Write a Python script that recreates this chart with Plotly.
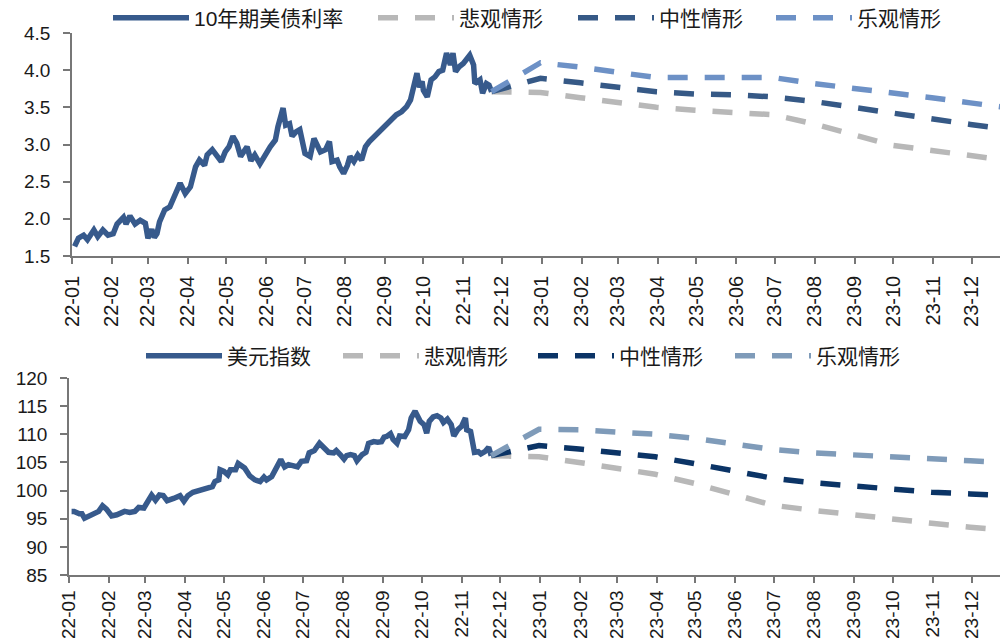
import plotly.graph_objects as go

# ---------------- data: 10Y UST yield (%) ----------------
ust_dates = [
    "2022-01-03","2022-01-06","2022-01-10","2022-01-13","2022-01-18","2022-01-21","2022-01-25","2022-01-29",
    "2022-02-02","2022-02-05","2022-02-10","2022-02-12","2022-02-15","2022-02-19","2022-02-23","2022-02-27",
    "2022-03-01","2022-03-04","2022-03-06","2022-03-08","2022-03-10","2022-03-14","2022-03-18","2022-03-21",
    "2022-03-23","2022-03-26","2022-03-30","2022-04-03","2022-04-07","2022-04-10","2022-04-14","2022-04-16",
    "2022-04-20","2022-04-23","2022-04-27","2022-04-30","2022-05-03","2022-05-06","2022-05-09","2022-05-12",
    "2022-05-17","2022-05-20","2022-05-23","2022-05-27","2022-05-31","2022-06-04","2022-06-08","2022-06-10",
    "2022-06-14","2022-06-16","2022-06-19","2022-06-21","2022-06-24","2022-06-27","2022-07-01","2022-07-05",
    "2022-07-08","2022-07-10","2022-07-13","2022-07-17","2022-07-20","2022-07-22","2022-07-26","2022-07-28",
    "2022-07-31","2022-08-03","2022-08-05","2022-08-08","2022-08-11","2022-08-14","2022-08-17","2022-08-20",
    "2022-08-24","2022-08-27","2022-08-31","2022-09-02","2022-09-06","2022-09-10","2022-09-14","2022-09-18",
    "2022-09-21","2022-09-23","2022-09-26","2022-09-28","2022-09-30","2022-10-01","2022-10-04","2022-10-07",
    "2022-10-10","2022-10-13","2022-10-16","2022-10-19","2022-10-22","2022-10-24","2022-10-26","2022-10-29",
    "2022-11-01","2022-11-06","2022-11-09","2022-11-10","2022-11-14","2022-11-16","2022-11-19","2022-11-21",
    "2022-11-23",
]
ust_values = [
    1.63, 1.74, 1.78, 1.72, 1.85, 1.76, 1.85, 1.78,
    1.80, 1.93, 2.02, 1.93, 2.04, 1.93, 1.98, 1.94,
    1.74, 1.86, 1.75, 1.80, 1.96, 2.12, 2.16, 2.28,
    2.37, 2.48, 2.34, 2.43, 2.70, 2.79, 2.72, 2.86,
    2.93, 2.86, 2.77, 2.90, 2.97, 3.11, 3.02, 2.84,
    2.97, 2.78, 2.86, 2.74, 2.86, 2.97, 3.06, 3.24,
    3.49, 3.26, 3.28, 3.11, 3.17, 3.20, 2.88, 2.84,
    3.08, 3.02, 2.90, 2.93, 3.04, 2.77, 2.79, 2.70,
    2.61, 2.72, 2.84, 2.77, 2.86, 2.79, 2.97, 3.04,
    3.11, 3.15, 3.22, 3.28, 3.33, 3.40, 3.44, 3.51,
    3.60, 3.78, 3.96, 3.77, 3.85, 3.73, 3.64, 3.87,
    3.91, 3.98, 4.00, 4.23, 4.07, 4.23, 3.98, 4.05,
    4.09, 4.20, 4.07, 3.82, 3.87, 3.69, 3.82, 3.80,
    3.71,
]

ust_fc_dates = ["2022-11-23","2022-12-31","2023-01-31","2023-02-28","2023-03-31","2023-04-30","2023-05-31",
                "2023-06-30","2023-07-31","2023-08-31","2023-09-30","2023-10-31","2023-11-30","2023-12-31"]
ust_pess = [3.71, 3.70, 3.63, 3.57, 3.50, 3.46, 3.43, 3.40, 3.28, 3.13, 2.99, 2.92, 2.85, 2.78]
ust_neut = [3.71, 3.89, 3.83, 3.77, 3.71, 3.68, 3.67, 3.64, 3.58, 3.50, 3.42, 3.34, 3.27, 3.20]
ust_opt  = [3.71, 4.10, 4.04, 3.98, 3.90, 3.90, 3.90, 3.90, 3.82, 3.76, 3.69, 3.63, 3.56, 3.49]

# ---------------- data: US dollar index ----------------
dxy_dates = [
    "2022-01-03","2022-01-05","2022-01-09","2022-01-11","2022-01-13","2022-01-17","2022-01-20","2022-01-24",
    "2022-01-27","2022-01-30","2022-02-03","2022-02-07","2022-02-13","2022-02-17","2022-02-21","2022-02-24",
    "2022-02-28","2022-03-02","2022-03-06","2022-03-09","2022-03-12","2022-03-15","2022-03-18","2022-03-23",
    "2022-03-28","2022-03-31","2022-04-03","2022-04-07","2022-04-13","2022-04-16","2022-04-20","2022-04-22",
    "2022-04-24","2022-04-27","2022-04-28","2022-05-01","2022-05-04","2022-05-06","2022-05-10","2022-05-12",
    "2022-05-17","2022-05-21","2022-05-25","2022-05-29","2022-06-01","2022-06-03","2022-06-07","2022-06-11",
    "2022-06-14","2022-06-17","2022-06-20","2022-06-24","2022-06-27","2022-06-30","2022-07-04","2022-07-06",
    "2022-07-10","2022-07-14","2022-07-18","2022-07-21","2022-07-25","2022-07-27","2022-07-30","2022-08-02",
    "2022-08-04","2022-08-07","2022-08-10","2022-08-12","2022-08-16","2022-08-19","2022-08-21","2022-08-25",
    "2022-08-28","2022-08-31","2022-09-02","2022-09-04","2022-09-07","2022-09-09","2022-09-12","2022-09-14",
    "2022-09-18","2022-09-21","2022-09-23","2022-09-26","2022-09-30","2022-10-03","2022-10-05","2022-10-07",
    "2022-10-10","2022-10-13","2022-10-16","2022-10-18","2022-10-21","2022-10-24","2022-10-26","2022-10-29",
    "2022-11-01","2022-11-04","2022-11-05","2022-11-08","2022-11-11","2022-11-14","2022-11-16","2022-11-19",
    "2022-11-22","2022-11-24",
]
dxy_values = [
    96.3, 96.3, 95.9, 95.9, 95.1, 95.5, 95.9, 96.3,
    97.3, 96.7, 95.5, 95.7, 96.3, 96.1, 96.3, 97.0,
    96.9, 97.8, 99.2, 98.3, 99.2, 99.1, 98.2, 98.6,
    99.1, 98.1, 99.1, 99.7, 100.1, 100.2, 100.7, 100.7,
    101.6, 101.9, 103.7, 103.4, 102.8, 103.7, 103.7, 104.8,
    104.0, 102.6, 101.9, 101.6, 102.4, 101.9, 102.5, 104.4,
    105.5, 104.2, 104.6, 104.4, 104.2, 105.2, 105.3, 106.7,
    107.1, 108.4, 107.5, 106.8, 106.7, 107.1, 106.4, 105.6,
    106.2, 106.4, 106.2, 105.3, 106.4, 106.8, 108.4, 108.7,
    108.6, 108.7, 109.5, 109.6, 110.1, 109.1, 108.4, 109.7,
    109.6, 110.8, 112.9, 114.1, 112.3, 111.7, 110.2, 112.3,
    113.1, 113.3, 112.9, 112.1, 112.7, 111.7, 109.7, 110.8,
    111.4, 112.9, 110.8, 110.5, 106.8, 106.9, 106.5, 106.9,
    107.7, 106.2,
]

dxy_fc_dates = ["2022-11-24","2022-12-31","2023-01-31","2023-02-28","2023-03-31","2023-04-30","2023-05-31",
                "2023-06-30","2023-07-31","2023-08-31","2023-09-30","2023-10-31","2023-11-30","2023-12-31"]
dxy_pess = [106.2, 106.0, 105.0, 104.1, 102.9, 101.3, 99.3, 97.4, 96.5, 95.8, 95.1, 94.2, 93.5, 92.9]
dxy_neut = [106.2, 108.0, 107.4, 106.7, 106.0, 104.8, 103.5, 102.2, 101.4, 100.8, 100.2, 99.7, 99.4, 99.1]
dxy_opt  = [106.2, 110.9, 110.8, 110.5, 110.0, 109.3, 108.3, 107.3, 106.7, 106.4, 106.0, 105.6, 105.3, 104.9]

names_top = ["10年期美债利率", "悲观情形", "中性情形", "乐观情形"]
names_bot = ["美元指数", "悲观情形", "中性情形", "乐观情形"]

FONT = "Arial, 'Liberation Sans', 'Noto Sans CJK SC', sans-serif"
TXT = "#1a1a1a"
DASH = "20px,17px"
LW = 5.5

fig = go.Figure()

# top chart
fig.add_trace(go.Scatter(x=ust_dates, y=ust_values, name=names_top[0], mode="lines",
                         line=dict(color="#375A8C", width=LW), xaxis="x", yaxis="y", legend="legend"))
fig.add_trace(go.Scatter(x=ust_fc_dates, y=ust_pess, name=names_top[1], mode="lines",
                         line=dict(color="#B8B8B8", width=LW, dash=DASH), xaxis="x", yaxis="y", legend="legend2"))
fig.add_trace(go.Scatter(x=ust_fc_dates, y=ust_neut, name=names_top[2], mode="lines",
                         line=dict(color="#365986", width=LW, dash=DASH), xaxis="x", yaxis="y", legend="legend3"))
fig.add_trace(go.Scatter(x=ust_fc_dates, y=ust_opt, name=names_top[3], mode="lines",
                         line=dict(color="#6D91C6", width=LW, dash=DASH), xaxis="x", yaxis="y", legend="legend4"))

# bottom chart
fig.add_trace(go.Scatter(x=dxy_dates, y=dxy_values, name=names_bot[0], mode="lines",
                         line=dict(color="#375A8C", width=LW), xaxis="x2", yaxis="y2", legend="legend5"))
fig.add_trace(go.Scatter(x=dxy_fc_dates, y=dxy_pess, name=names_bot[1], mode="lines",
                         line=dict(color="#B8B8B8", width=LW, dash=DASH), xaxis="x2", yaxis="y2", legend="legend6"))
fig.add_trace(go.Scatter(x=dxy_fc_dates, y=dxy_neut, name=names_bot[2], mode="lines",
                         line=dict(color="#0B3466", width=LW, dash=DASH), xaxis="x2", yaxis="y2", legend="legend7"))
fig.add_trace(go.Scatter(x=dxy_fc_dates, y=dxy_opt, name=names_bot[3], mode="lines",
                         line=dict(color="#7F9BB9", width=LW, dash=DASH), xaxis="x2", yaxis="y2", legend="legend8"))

W, H = 1000, 642

def xaxis(dom, fsize, standoff):
    return dict(domain=dom, type="date", range=["2022-01-01", "2023-12-23"], automargin=False,
                tickmode="linear", tick0="2022-01-01", dtick="M1", tickformat="%y-%m",
                tickangle=-90, ticks="outside", ticklen=6, tickcolor="#777", tickwidth=1.5,
                showline=True, linecolor="#777", linewidth=1.5, showgrid=False, zeroline=False,
                tickfont=dict(size=fsize, color=TXT, family=FONT), ticklabelstandoff=standoff)

def yaxis(dom, rng, dt, fmt, anchor):
    return dict(domain=dom, range=rng, dtick=dt, tick0=rng[0], tickformat=fmt, anchor=anchor,
                automargin=False,
                ticks="outside", ticklen=7, tickcolor="#777", tickwidth=1.5,
                showline=True, linecolor="#777", linewidth=1.5, showgrid=False, zeroline=False,
                tickfont=dict(size=19, color=TXT, family=FONT), ticklabelstandoff=9)

def leg(px, py):
    return dict(x=px / W, y=1 - py / H, xanchor="left", yanchor="middle", orientation="h",
                itemwidth=76, bgcolor="rgba(0,0,0,0)", borderwidth=0,
                font=dict(size=21, color=TXT, family=FONT))

fig.update_layout(
    width=W, height=H, margin=dict(l=0, r=0, t=0, b=0, autoexpand=False),
    paper_bgcolor="white", plot_bgcolor="white",
    font=dict(family=FONT, color=TXT),
    xaxis=xaxis([0.072, 1.0], 20, 4) | dict(anchor="y"),
    yaxis=yaxis([1 - 256 / H, 1 - 33 / H], [1.5, 4.5], 0.5, ".1f", "x"),
    xaxis2=xaxis([0.069, 1.0], 19, 0) | dict(anchor="y2"),
    yaxis2=yaxis([1 - 575 / H, 1 - 378 / H], [85, 120], 5, "d", "x2"),
    showlegend=True,
    legend=leg(108, 18),
    legend2=leg(373, 18),
    legend3=leg(573, 18),
    legend4=leg(771, 18),
    legend5=leg(141, 356),
    legend6=leg(338, 356),
    legend7=leg(533, 356),
    legend8=leg(730, 356),
)

fig.write_html("out.html")
